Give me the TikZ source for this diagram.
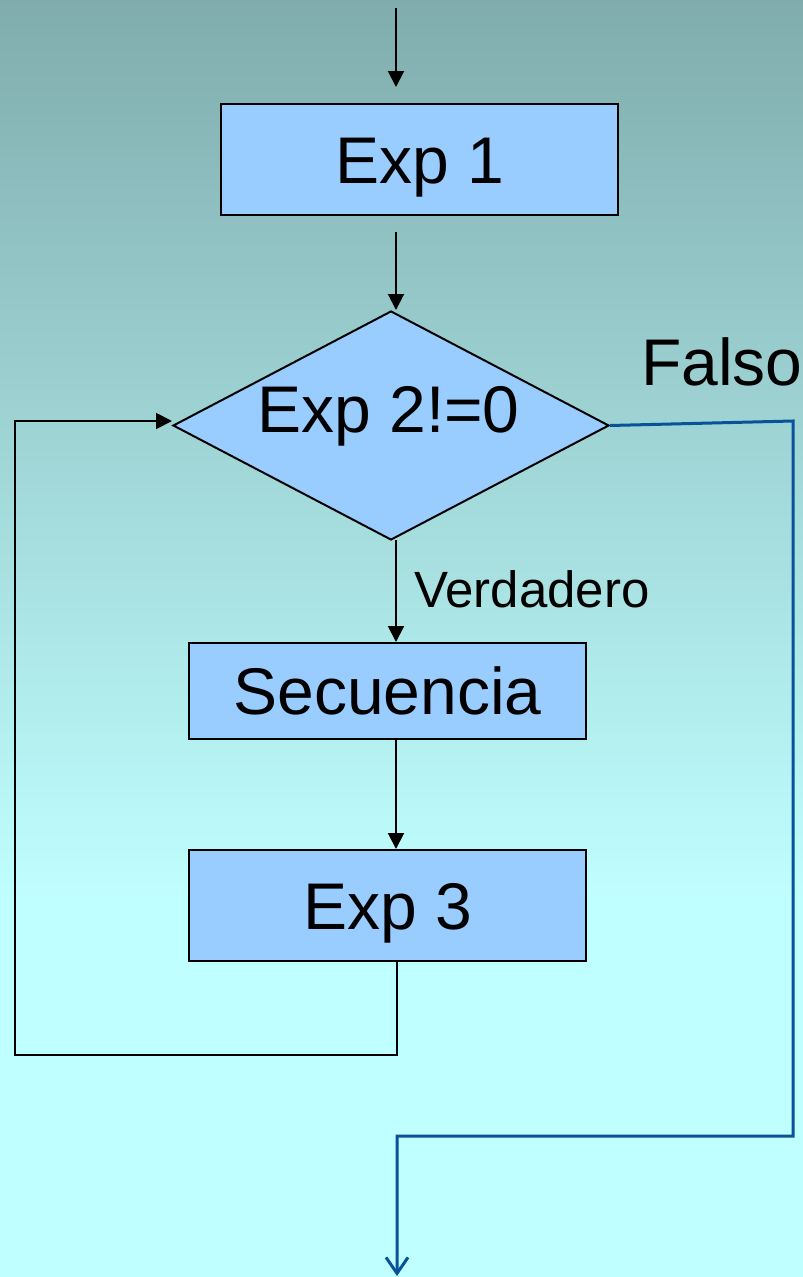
\documentclass[tikz,border=0pt]{standalone}
\usepackage{fontspec}
\setmainfont{Liberation Sans}
\usetikzlibrary{arrows.meta,shapes.geometric}
\definecolor{boxfill}{RGB}{153,204,255}
\definecolor{bgtop}{RGB}{128,172,173}
\definecolor{bgbot}{RGB}{192,255,255}
\definecolor{falsoblue}{RGB}{10,82,152}
\begin{document}
\begin{tikzpicture}[x=1pt,y=-1pt,
  box/.style={draw=black, line width=2pt, fill=boxfill, inner sep=0pt,
    minimum width=397pt, text height=60pt, text depth=13pt,
    font=\fontsize{66}{79}\selectfont},
  decision/.style={draw=black, line width=2pt, fill=boxfill, diamond, aspect=1.9,
    inner sep=0pt, minimum width=436pt, minimum height=229pt,
    text height=40pt, text depth=26pt, font=\fontsize{66}{79}\selectfont},
  arr/.style={draw=black, line width=2pt, -{Triangle[length=16pt,width=16pt]}},
  plain/.style={draw=black, line width=2.5pt},
  falsoline/.style={draw=falsoblue, line width=3pt},
  lbl/.style={inner sep=0pt, anchor=base west}]
\useasboundingbox (0,0) rectangle (803,1277);
\shade[top color=bgtop, bottom color=bgbot] (0,0) rectangle (803,900);
\fill[bgbot] (0,899.5) rectangle (803,1277);

% nodes
\node[box, minimum height=111pt] (e1) at (419.5,159.5) {Exp 1};
\node[decision] (d) at (391,425.5) {\hspace*{-5pt}Exp 2!=0};
\node[box, minimum height=96pt] (sec) at (387.5,691) {Secuencia};
\node[box, minimum height=111pt] (e3) at (387.5,905.5) {Exp 3};
\node[lbl, font=\fontsize{66}{79}\selectfont] (falso) at (641,385) {Falso};
\node[lbl, font=\fontsize{51}{61}\selectfont] (verd) at (414,607) {Verdadero};

% coordinates for free ends and bends
\coordinate (start) at (396,8);
\coordinate (s1) at (396,232);
\coordinate (dbot) at (396,540);
\coordinate (l1) at (397,1055);
\coordinate (l2) at (15,1055);
\coordinate (l3) at (15,421);
\coordinate (f1) at (793,421);
\coordinate (f2) at (793,1136);
\coordinate (f3) at (397,1136);
\coordinate (fend) at (397,1276);

% connectors
\draw[arr, shorten >=16pt] (start) -- (start |- e1.north);
\draw[arr] (s1) -- (s1 |- d.north);
\draw[arr] (dbot) -- (dbot |- sec.north);
\draw[arr] (dbot |- sec.south) -- (dbot |- e3.north);
\draw[plain, line cap=rect] (l1 |- e3.south) -- (l1) -- (l2) -- (l3);
\draw[arr] (l3) -- (l3 -| d.west);
\draw[falsoline, -{Straight Barb[length=16pt,width=22pt]}] (d.east) -- (f1) -- (f2) -- (f3) -- (fend);
\end{tikzpicture}
\end{document}
